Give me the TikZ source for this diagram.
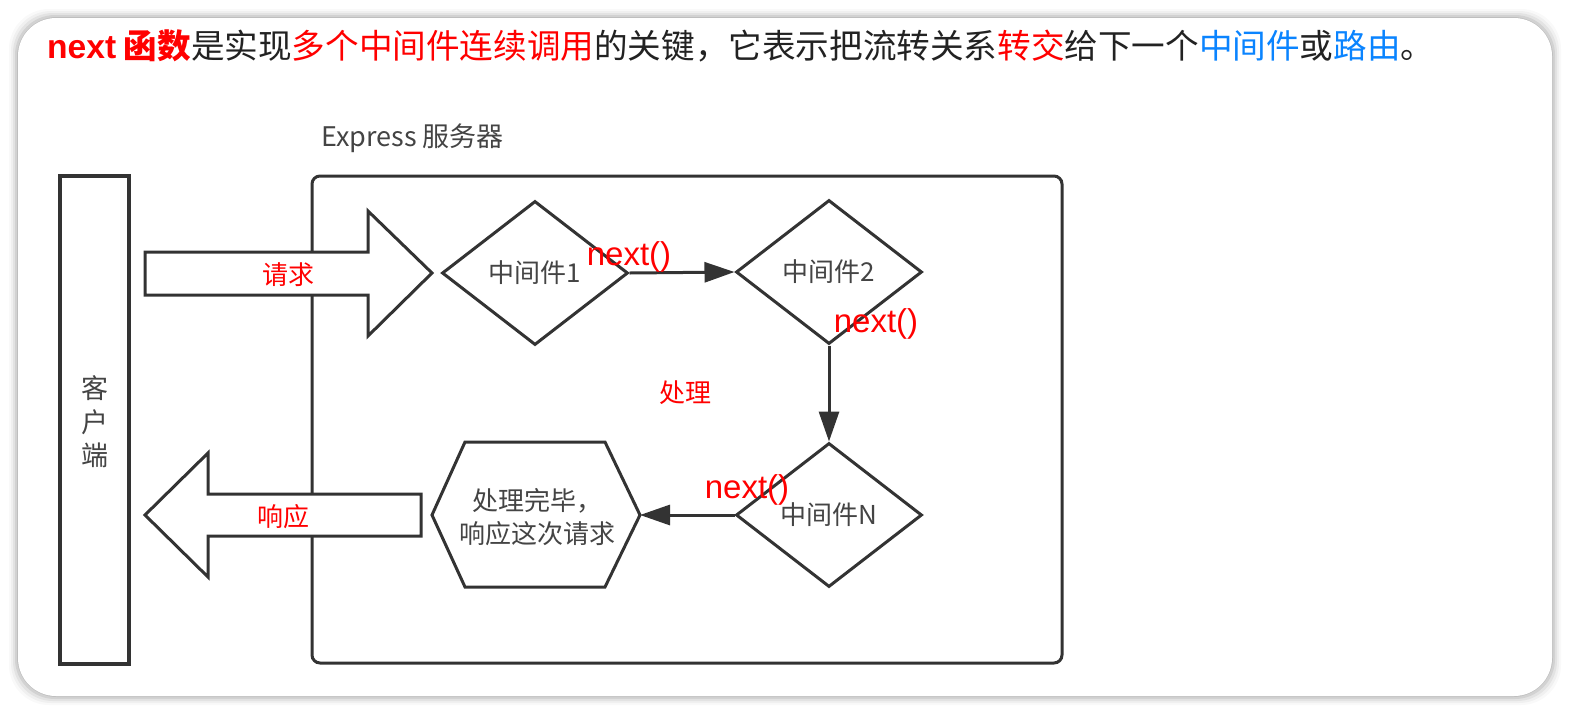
\documentclass[tikz,border=0pt]{standalone}
\usepackage{fontspec}
\setmainfont{Noto Sans CJK SC}
\newfontfamily\arial{Liberation Sans}
\usetikzlibrary{arrows.meta,shapes.geometric}
\definecolor{ln}{HTML}{333333}
\definecolor{rd}{HTML}{FF0000}
\definecolor{bl}{HTML}{0A84FF}
\definecolor{tx}{HTML}{444444}
\definecolor{tt}{HTML}{222222}
\tikzset{
  shp/.style={draw=ln, line width=3pt, fill=white, line join=miter},
  mid/.style={diamond, draw=ln, line width=3pt, minimum width=186pt, minimum height=144pt, inner sep=0pt, aspect=1.3, text=tx, font=\fontsize{26}{30}\selectfont},
  conn/.style={draw=ln, line width=3pt, -{Triangle[length=30pt,width=20pt]}},
  lbl/.style={text=tx, font=\fontsize{26}{33}\selectfont, inner sep=0pt},
  redlbl/.style={text=rd, font=\fontsize{26}{30}\selectfont, inner sep=0pt},
  nxt/.style={text=rd, font=\arial\fontsize{33}{40}\selectfont, inner sep=0pt, anchor=base}
}
\begin{document}
\begin{tikzpicture}[x=1pt,y=-1pt]
\useasboundingbox (0,0) rectangle (1572,716);
\fill[white] (0,0) rectangle (1572,716);
% card shadow
\foreach \i/\o in {9/0.025,7/0.035,5/0.05,3/0.07,1/0.09}
  \fill[black, opacity=\o, rounded corners=40pt] (18-\i,18-\i) rectangle (1552+\i,696+\i);
\fill[white, rounded corners=38pt] (18,18) rectangle (1552,696);
% title
\node[anchor=base west, inner sep=0pt, text=tt, font=\fontsize{33.6}{40}\selectfont] (title) at (47,58)
  {\textcolor{rd}{\bfseries{\arial next} 函数}是实现\textcolor{rd}{多个中间件连续调用}的关键，它表示把流转关系\textcolor{rd}{转交}给下一个\textcolor{bl}{中间件}或\textcolor{bl}{路由}。};
% client and server
\node[draw=ln, line width=4pt, minimum width=69pt, minimum height=488pt, inner sep=0pt] (client) at (94.5,420) {};
\node[lbl, align=center, font=\fontsize{27}{33.5}\selectfont] (clientlbl) at (95,422) {客\\户\\端};
\node[draw=ln, line width=3pt, rounded corners=8pt, minimum width=750pt, minimum height=487pt, inner sep=0pt] (server) at (687,419.5) {};
\node[lbl, anchor=west, font=\fontsize{27}{33}\selectfont] (exlbl) at (321,138) {Express 服务器};
% request / response block arrows
\draw[shp] (145,252) -- (368,252) -- (368,211) -- (432,273) -- (368,336) -- (368,295) -- (145,295) -- cycle;
\node[redlbl] (req) at (288,275) {请求};
\draw[shp] (145,515) -- (208,453) -- (208,494) -- (421,494) -- (421,536) -- (208,536) -- (208,577) -- cycle;
\node[redlbl] (resp) at (283,517) {响应};
% middlewares
\node[mid] (d1) at (535,273) {中间件1};
\node[mid] (d2) at (829,272) {中间件2};
\node[mid] (dN) at (829,515) {中间件N};
% final hexagon
\draw[shp] (432,515) -- (465,442) -- (605,442) -- (640,515) -- (605,587) -- (465,587) -- cycle;
\coordinate (hexR) at (640,515);
\node[lbl, align=center] (hex) at (537,517) {处理完毕，\\响应这次请求};
% connectors
\draw[conn] (d1.east) -- (d2.west);
\draw[conn] (d2.south) -- (dN.north);
\draw[conn] (dN.west) -- (hexR);
% labels
\node[nxt] (n1) at (629,265) {next()};
\node[nxt] (n2) at (876,332) {next()};
\node[nxt] (n3) at (747,498) {next()};
\node[redlbl] (proc) at (685,393) {处理};
\end{tikzpicture}
\end{document}
